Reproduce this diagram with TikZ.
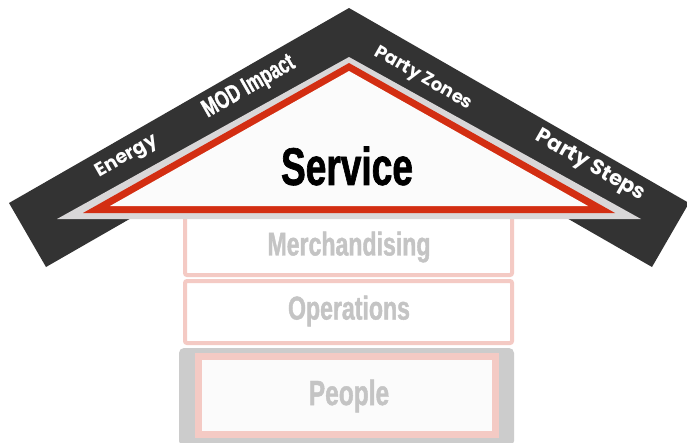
\documentclass[tikz,border=0pt]{standalone}
\usepackage{fontspec}
\usetikzlibrary{calc}

\newfontfamily\slimfont[FakeStretch=0.70,FakeBold=1.2]{Liberation Sans}
\newfontfamily\roundfont{Poppins}

\definecolor{roof}{HTML}{333333}
\definecolor{eave}{HTML}{D9D7D8}
\definecolor{brick}{HTML}{D32E12}
\definecolor{blush}{HTML}{F4CAC4}
\definecolor{ash}{HTML}{C4C4C4}
\definecolor{slab}{HTML}{CCCCCC}
\definecolor{paper}{HTML}{FBFBFB}

\tikzset{
  roofword/.style={text=white,font=\roundfont\bfseries\fontsize{19}{19}\selectfont},
  roofslim/.style={text=white,font=\slimfont\bfseries\fontsize{25}{25}\selectfont},
  floorword/.style={text=ash,font=\slimfont\bfseries\fontsize{33}{33}\selectfont},
  floorbox/.style={draw=blush,line width=4pt,rounded corners=2pt}
}

\begin{document}
\begin{tikzpicture}[x=1pt,y=-1pt]
  \useasboundingbox[fill=white] (0,0) rectangle (687,442);

  \coordinate (A) at (349,8);
  \coordinate (B) at (349,93);
  \coordinate (L1) at (9,203);
  \coordinate (L2) at (46,267);
  \coordinate (R1) at (689,203);
  \coordinate (R2) at (652,267);

  % floors first, the roof sits on top of them
  \draw[floorbox,fill=white] (185,200) rectangle (512,275);
  \draw[floorbox,fill=white] (185,281) rectangle (512,343);
  \fill[slab,rounded corners=5pt] (179,348) rectangle (514,446);
  \draw[draw=blush,line width=7pt,fill=paper] (198.5,356.5) rectangle (495.5,434.5);

  \node[floorword] (merch) at (349,247) {Merchandising};
  \node[floorword] (ops) at (349,311) {Operations};
  \node[floorword,font=\slimfont\bfseries\fontsize{35}{35}\selectfont] (people) at (349,396) {People};

  % roof
  \fill[roof] (L1) -- (A) -- (R1) -- (R2) -- (B) -- (L2) -- cycle;
  \fill[eave] (349,57) -- (641,219) -- (57,219) -- cycle;
  \fill[brick] (349,63) -- (615,213) -- (83,213) -- cycle;
  \fill[paper] (349,71) -- (588,206) -- (110,206) -- cycle;

  \node[font=\slimfont\bfseries\fontsize{53}{53}\selectfont] (service) at (347,166) {Service};

  \node[roofword,rotate=29.8] (energy) at (127,157) {Energy};
  \node[roofslim,rotate=29.8] (mod) at (249,87) {MOD Impact};
  \node[roofword,rotate=-29.8,font=\roundfont\bfseries\fontsize{18}{18}\selectfont] (zones) at (423,79) {Party Zones};
  \node[roofword,rotate=-29.8,font=\roundfont\bfseries\fontsize{21}{21}\selectfont] (steps) at (590,166) {Party Steps};
\end{tikzpicture}
\end{document}
